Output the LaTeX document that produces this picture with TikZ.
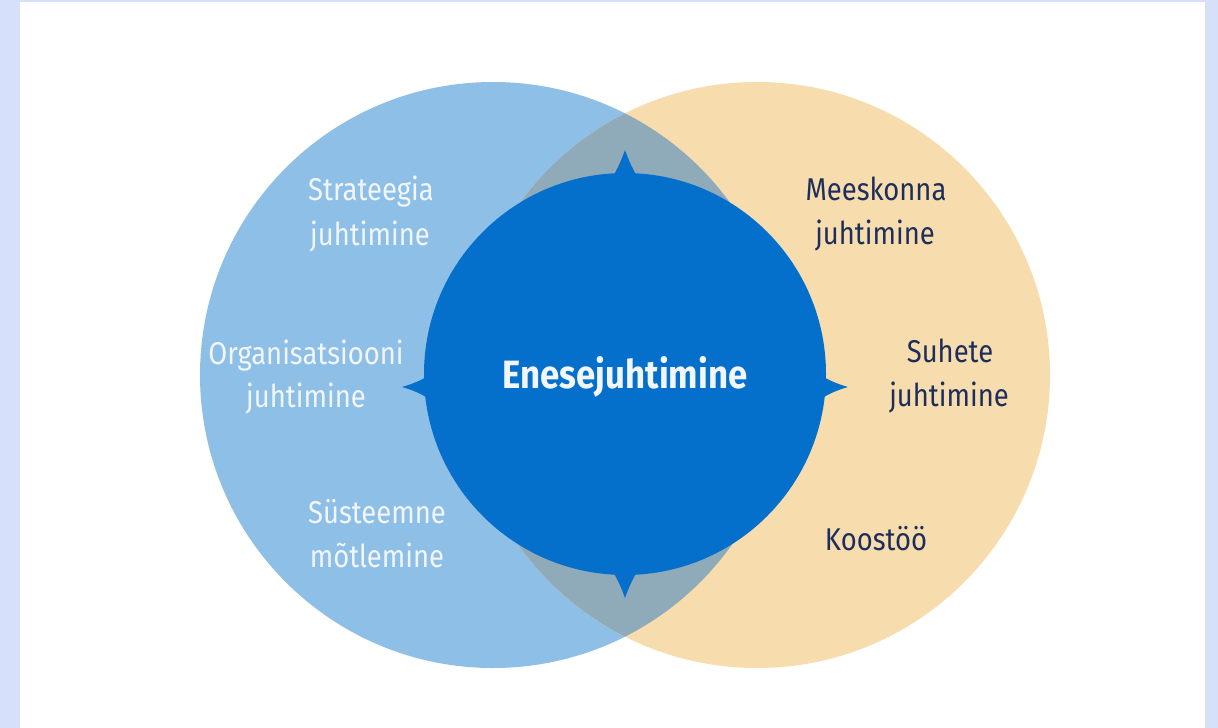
\documentclass[tikz,border=0pt]{standalone}
\usepackage{fontspec}
\setmainfont{Fira Sans}[FakeStretch=0.87]
\newfontfamily\boldcond{Fira Sans}[FakeStretch=0.88,UprightFont=* Bold]
\definecolor{bgl}{HTML}{D6E0F8}
\definecolor{lblue}{HTML}{8EBFE7}
\definecolor{peach}{HTML}{F7DDAE}
\definecolor{overl}{HTML}{8FAAB9}
\definecolor{dblue}{HTML}{0570CC}
\definecolor{ltxt}{HTML}{F2F6FB}
\definecolor{rtxt}{HTML}{1E2E5C}
\tikzset{
  lbl/.style={anchor=base,inner sep=0pt,font=\fontsize{31.5}{36}\selectfont},
  llbl/.style={lbl,text=ltxt},
  rlbl/.style={lbl,text=rtxt},
}
\begin{document}
\begin{tikzpicture}[x=1pt,y=-1pt]
\useasboundingbox (0,0) rectangle (1218,728);
\fill[bgl] (0,0) rectangle (1218,728);
\fill[white] (20,2) rectangle (1205,728);
% circles
\fill[lblue] (493,375) circle[radius=293];
\fill[peach] (757,375) circle[radius=293];
\begin{scope}
  \clip (493,375) circle[radius=293];
  \fill[overl] (757,375) circle[radius=293];
\end{scope}
% central circle with spikes
\fill[dblue] (625,374) circle[radius=201];
\fill[dblue] (609,182) .. controls (615,174) and (620,164) .. (625,150) .. controls (630,164) and (635,174) .. (641,182) -- cycle;
\fill[dblue] (609,566) .. controls (615,574) and (620,584) .. (625,598) .. controls (630,584) and (635,574) .. (641,566) -- cycle;
\fill[dblue] (434,372) .. controls (426,378) and (416,383) .. (402,387) .. controls (416,391) and (426,396) .. (434,403) -- cycle;
\fill[dblue] (816,372) .. controls (824,378) and (834,383) .. (848,387) .. controls (834,391) and (824,396) .. (816,403) -- cycle;
% labels
\node[llbl] (s1) at (371,200) {Strateegia};
\node[llbl] (s2) at (370,245) {juhtimine};
\node[llbl] (o1) at (306,364) {Organisatsiooni};
\node[llbl] (o2) at (306,407) {juhtimine};
\node[llbl] (y1) at (377,523) {Süsteemne};
\node[llbl] (y2) at (377,567) {mõtlemine};
\node[rlbl] (m1) at (876,200) {Meeskonna};
\node[rlbl] (m2) at (875,244) {juhtimine};
\node[rlbl] (h1) at (950,362) {Suhete};
\node[rlbl] (h2) at (949,406) {juhtimine};
\node[rlbl] (k1) at (876,550) {Koostöö};
\node[anchor=base,inner sep=0pt,text=ltxt,font=\boldcond\fontsize{39.5}{46}\selectfont] (c) at (625,388) {Enesejuhtimine};
\end{tikzpicture}
\end{document}
